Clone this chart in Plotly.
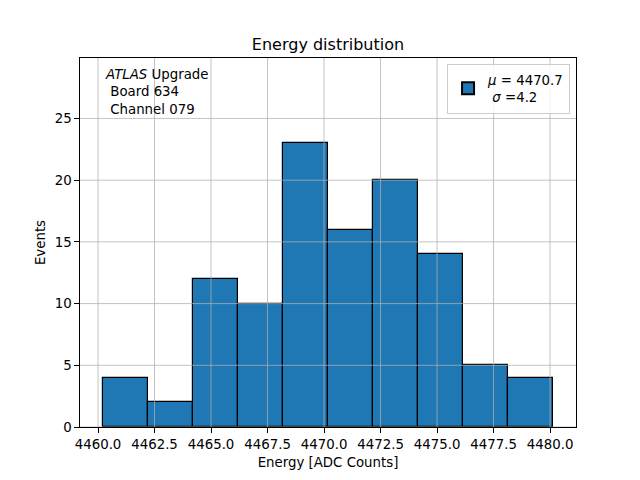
import plotly.graph_objects as go

# Data
bin_edges = [4460.20, 4462.20, 4464.19, 4466.19, 4468.18, 4470.18,
             4472.17, 4474.17, 4476.16, 4478.16, 4480.15]
counts = [4, 2, 12, 10, 23, 16, 20, 14, 5, 4]
legend_label = "<i>μ</i> = 4470.7<br> <i>σ</i> =4.2"
x_ticks = [4460.0, 4462.5, 4465.0, 4467.5, 4470.0, 4472.5, 4475.0, 4477.5, 4480.0]
y_ticks = [0, 5, 10, 15, 20, 25]

centers = [(a + b) / 2 for a, b in zip(bin_edges[:-1], bin_edges[1:])]
widths = [b - a for a, b in zip(bin_edges[:-1], bin_edges[1:])]

span = bin_edges[-1] - bin_edges[0]
x_range = [bin_edges[0] - 0.05 * span, bin_edges[-1] + 0.05 * span]
y_range = [0, max(counts) * 1.3]

FONT = "DejaVu Sans"

fig = go.Figure()
fig.add_trace(go.Bar(
    x=centers, y=counts, width=widths,
    marker=dict(color="#1f77b4", line=dict(color="black", width=1.2)),
    name=legend_label, showlegend=True,
))

grid_col = "rgba(176,176,176,0.75)"
shapes = []
for xv in x_ticks:
    shapes.append(dict(type="line", xref="x", yref="paper", x0=xv, x1=xv, y0=0, y1=1,
                       line=dict(color=grid_col, width=1), layer="above"))
for yv in y_ticks:
    shapes.append(dict(type="line", xref="paper", yref="y", x0=0, x1=1, y0=yv, y1=yv,
                       line=dict(color=grid_col, width=1), layer="above"))

fig.update_layout(
    width=640, height=480,
    margin=dict(l=72, r=72, t=49.6, b=60.8, pad=0),
    paper_bgcolor="white", plot_bgcolor="white",
    font=dict(family=FONT, size=13.33, color="black"),
    title=dict(text="Energy distribution", x=0.5, xref="paper", xanchor="center",
               y=1 - 36 / 480, yref="container", yanchor="middle",
               font=dict(family=FONT, size=16, color="black")),
    shapes=shapes,
    showlegend=True,
    legend=dict(x=0.988, y=0.985, xanchor="right", yanchor="top",
                bgcolor="rgba(255,255,255,0.8)", bordercolor="#cccccc", borderwidth=1,
                font=dict(family=FONT, size=13.33), itemsizing="constant",
                tracegroupgap=0),
    bargap=0,
    annotations=[dict(
        xref="paper", yref="paper", x=0.046, y=0.982, xanchor="left", yanchor="top",
        align="left", showarrow=False,
        text="<i>ATLAS</i> Upgrade<br>\u00a0Board 634<br>\u00a0Channel 079",
        font=dict(family=FONT, size=13.33, color="black"),
    )],
)

fig.update_xaxes(
    range=x_range, tickvals=x_ticks, ticktext=[f"{v:.1f}" for v in x_ticks],
    showline=True, linecolor="black", linewidth=1, mirror=True,
    ticks="outside", ticklen=4.7, tickwidth=1, tickcolor="black",
    showgrid=False, zeroline=False,
    title=dict(text="Energy [ADC Counts]", standoff=6, font=dict(family=FONT, size=13.33)),
)
fig.update_yaxes(
    range=y_range, tickvals=y_ticks,
    showline=True, linecolor="black", linewidth=1, mirror=True,
    ticks="outside", ticklen=4.7, tickwidth=1, tickcolor="black",
    showgrid=False, zeroline=False,
    title=dict(text="Events", standoff=5, font=dict(family=FONT, size=13.33)),
)

fig.write_html("out.html")
